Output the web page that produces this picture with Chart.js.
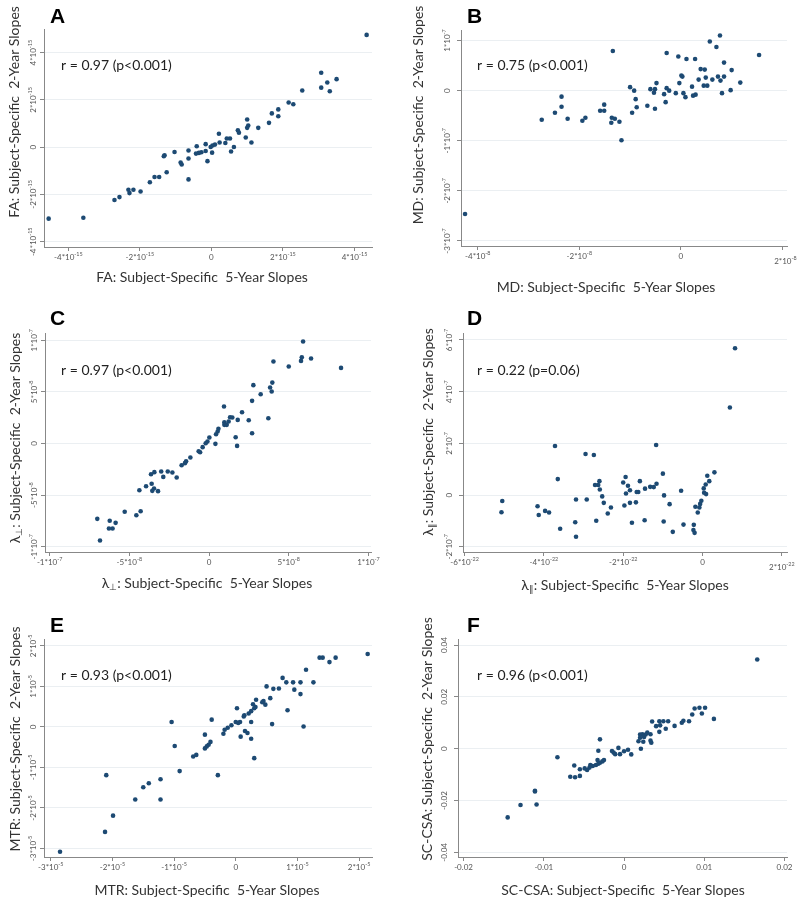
<!DOCTYPE html>
<html>
<head>
<meta charset="utf-8">
<script src="https://cdn.jsdelivr.net/npm/chart.js@4.4.1/dist/chart.umd.min.js"></script>
<style>
  body { margin: 0; background: #fff; width: 800px; height: 901px; position: relative; overflow: hidden; }
  canvas { position: absolute; }
</style>
</head>
<body>
<canvas id="cA" width="400" height="300" style="left:0;top:0"></canvas>
<canvas id="cB" width="400" height="300" style="left:400px;top:0"></canvas>
<canvas id="cC" width="400" height="300" style="left:0;top:300px"></canvas>
<canvas id="cD" width="400" height="300" style="left:400px;top:300px"></canvas>
<canvas id="cE" width="400" height="301" style="left:0;top:600px"></canvas>
<canvas id="cF" width="400" height="301" style="left:400px;top:600px"></canvas>
<script>
// A: FA slopes, units of 1e-15
const aX = [4.34, 3.07, 3.24, 3.50, 3.07, 3.31, 2.54, 2.16, 2.29, 1.87, 1.87, 1.69, 1.61, 1.31, 1.00, 1.03, 1.00, 0.96, 1.12, 0.74,
  0.77, 0.52, 0.43, 0.39, 0.63, 0.55, 0.21, 0.23, 0.10, 0.03, -0.02, 0.02, -0.16, -0.16, -0.11, -0.28, -0.35, -0.43, -0.41, -0.64,
  -0.64, -0.64, -0.86, -0.83, -1.03, -1.31, -1.33, -1.25, -1.46, -1.59, -1.72, -1.98, -2.18, -2.32, -2.29, -2.57, -2.71, -3.58, -4.55];
const aY = [4.75, 3.15, 2.74, 2.88, 2.52, 2.37, 2.40, 1.89, 1.82, 1.60, 1.31, 1.43, 1.03, 0.82, 1.17, 0.92, 0.82, 0.41, 0.20, 0.72,
  0.61, 0.37, 0.37, 0.18, 0.01, -0.18, 0.57, 0.20, 0.11, 0.07, 0.01, -0.23, 0.13, -0.16, -0.59, -0.21, -0.24, -0.27, 0.04, -0.14,
  -0.48, -1.36, -0.65, -0.73, -0.20, -0.34, -0.38, -1.06, -1.26, -1.26, -1.48, -1.87, -1.80, -1.80, -1.94, -2.11, -2.23, -2.98, -3.02];
const aXTicks = [-4, -2, 0, 2, 4];
const aXLabels = ['-4*10^-15', '-2*10^-15', '0', '2*10^-15', '4*10^-15'];
const aYTicks = [-4, -2, 0, 2, 4];
const aYLabels = ['-4*10^-15', '-2*10^-15', '0', '2*10^-15', '4*10^-15'];

// B: MD slopes, x in 1e-8, y in 1e-7
const bX = [-4.25, -2.74, -2.48, -2.35, -2.35, -2.23, -1.94, -1.88, -1.59, -1.51, -1.51, -1.37, -1.36, -1.30, -1.34, -1.21, -1.17, -1.00, -0.92, -0.89,
  -0.96, -0.87, -0.66, -0.60, -0.51, -0.53, -0.48, -0.51, -0.33, -0.30, -0.28, -0.28, -0.23, -0.10, -0.03, -0.05, 0.01, 0.03, 0.05, 0.09,
  0.11, 0.22, 0.24, 0.29, 0.28, 0.35, 0.39, 0.47, 0.45, 0.49, 0.52, 0.57, 0.62, 0.70, 0.77, 0.73, 0.78, 0.81, 0.85, 0.85,
  1.00, 0.98, 1.17, 1.54];
const bY = [-2.46, -0.58, -0.44, -0.12, -0.32, -0.56, -0.60, -0.54, -0.40, -0.40, -0.28, -0.64, -0.54, -0.56, 0.79, -0.62, -0.99, 0.07, 0.00, -0.17,
  -0.44, -0.33, -0.30, 0.03, 0.03, -0.04, 0.15, -0.36, -0.07, -0.23, 0.75, 0.05, 0.00, -0.05, 0.15, 0.68, 0.30, 0.28, -0.05, -0.13,
  0.63, 0.08, -0.10, -0.08, 0.63, 0.22, 0.43, 0.42, 0.10, 0.26, 0.10, 0.98, 0.22, 0.87, 1.10, 0.28, 0.20, -0.05, 0.28, 0.56,
  0.41, 0.01, 0.16, 0.71];
const bXTicks = [-4, -2, 0, 2];
const bXLabels = ['-4*10^-8', '-2*10^-8', '0', '2*10^-8'];
const bYTicks = [-3, -2, -1, 0, 1];
const bYLabels = ['-3*10^-7', '-2*10^-7', '-1*10^-7', '0', '1*10^-7'];

// C: radial diffusivity slopes, units of 1e-8
const cX = [5.90, 5.82, 5.77, 6.40, 8.28, 5.00, 4.04, 3.97, 3.83, 3.93, 3.24, 2.78, 2.70, 3.72, 2.07, 2.49, 2.70, 1.80, 1.67, 1.76,
  1.46, 1.32, 1.23, 0.94, 0.96, 0.96, 1.11, 0.59, 0.54, 0.44, 0.40, 0.02, -0.10, -0.21, -0.40, -0.65, -0.56, -1.17, -1.44, -1.51,
  -1.72, -2.03, -2.30, -2.59, -2.87, -3.00, -3.20, -3.43, -3.64, -3.60, -3.45, -3.56, -3.95, -4.37, -4.29, -4.56, -5.29, -5.86, -6.05, -6.28,
  -6.23, -7.01, -6.84];
const cY = [9.87, 8.35, 8.00, 8.23, 7.32, 7.45, 7.94, 5.90, 5.42, 5.03, 4.77, 5.65, 4.13, 2.45, 3.03, 2.26, 1.00, 2.29, 0.61, -0.23,
  2.52, 2.55, 2.13, 3.58, 2.06, 1.81, 1.81, 1.42, 1.16, 0.90, -0.03, 0.58, 0.19, 0.03, -0.35, -0.74, -0.84, -1.35, -1.71, -1.90,
  -2.10, -3.29, -2.81, -2.71, -3.23, -2.71, -4.61, -2.77, -2.97, -3.90, -4.35, -4.58, -4.13, -4.52, -6.55, -6.94, -6.61, -7.68, -8.23, -8.23,
  -7.48, -7.29, -9.39];
const cXTicks = [-10, -5, 0, 5, 10];
const cXLabels = ['-1*10^-7', '-5*10^-8', '0', '5*10^-8', '1*10^-7'];
const cYTicks = [-10, -5, 0, 5, 10];
const cYLabels = ['-1*10^-7', '-5*10^-8', '0', '5*10^-8', '1*10^-7'];

// D: axial diffusivity slopes, x in 1e-22, y in 1e-7
const dX = [0.82, 0.69, 0.30, 0.17, 0.12, 0.08, 0.03, 0.04, 0.09, -0.03, -0.06, -0.08, -0.18, -0.12, -0.22, -0.23, -0.20, -0.48, -0.54, -0.75,
  -0.83, -0.97, -1.00, -0.98, -1.17, -1.16, -1.23, -1.32, -1.45, -1.46, -1.58, -1.62, -1.66, -1.68, -1.78, -1.83, -1.83, -1.88, -1.94, -1.93,
  -1.97, -2.00, -2.31, -2.39, -2.49, -2.53, -2.59, -2.60, -2.63, -2.71, -2.68, -2.74, -2.95, -2.92, -3.19, -3.21, -3.19, -3.59, -3.65, -3.72,
  -3.87, -3.97, -4.13, -4.16, -5.07, -5.05];
const dY = [5.68, 3.39, 0.88, 0.54, 0.75, 0.41, 0.26, 0.09, 0.04, -0.22, -0.34, -0.48, -0.45, -0.67, -1.15, -1.35, -1.46, -1.14, 0.17, -1.42,
  -0.35, -0.01, 0.83, -1.02, 1.94, 0.44, 0.31, 0.32, 0.25, -0.97, 0.54, 0.12, 0.12, -0.28, -1.07, -0.30, 0.19, 0.36, 0.70, 0.06,
  -0.40, 0.49, -0.48, -0.71, -0.30, -0.05, 0.22, 0.54, 0.39, 0.39, -0.99, 1.55, 1.59, -0.17, -0.17, -1.05, -1.61, -1.30, 0.62, 1.90,
  -0.67, -0.61, -0.77, -0.43, -0.66, -0.23];
const dXTicks = [-6, -4, -2, 0, 2];
const dXLabels = ['-6*10^-22', '-4*10^-22', '-2*10^-22', '0', '2*10^-22'];
const dYTicks = [-2, 0, 2, 4, 6];
const dYLabels = ['-2*10^-7', '0', '2*10^-7', '4*10^-7', '6*10^-7'];

// E: MTR slopes, units of 1e-5
const eX = [2.14, 1.62, 1.52, 1.41, 1.36, 1.14, 1.26, 1.05, 0.93, 0.95, 0.76, 0.82, 0.70, 0.61, 0.50, 1.05, 0.56, 0.48, 0.45, 0.43,
  0.33, 0.32, 0.28, 0.30, 0.25, 0.21, 0.13, 0.14, 0.02, 0.07, 0.00, 0.04, -0.07, -0.13, -0.18, -0.20, 0.08, 0.15, 0.19, 0.25,
  0.25, 0.59, 0.84, 1.10, 0.30, -0.29, -0.39, -0.41, -0.44, -0.47, -0.50, -0.50, -0.64, -0.69, -0.91, -0.99, -1.04, -1.22, -1.22, -1.41,
  -1.50, -1.63, -2.10, -1.99, -2.12, -2.85];
const eY = [1.80, 1.71, 1.60, 1.71, 1.71, 1.41, 1.10, 1.10, 1.10, 0.92, 1.21, 1.10, 0.95, 0.94, 1.00, 0.81, 0.71, 0.55, 0.64, 0.61,
  0.67, 0.49, 0.56, 0.46, 0.39, 0.33, 0.26, 0.29, 0.46, 0.12, 0.12, 0.10, 0.04, -0.02, -0.07, -0.17, -0.24, -0.10, -0.15, 0.12,
  -0.29, 0.07, 0.41, 0.01, -0.77, -1.19, 0.18, -0.37, -0.44, -0.48, -0.53, -0.19, -0.69, -0.73, -1.09, -0.47, 0.12, -1.29, -1.79, -1.39,
  -1.49, -1.79, -1.19, -2.19, -2.59, -3.08];
const eXTicks = [-3, -2, -1, 0, 1, 2];
const eXLabels = ['-3*10^-5', '-2*10^-5', '-1*10^-5', '0', '1*10^-5', '2*10^-5'];
const eYTicks = [-3, -2, -1, 0, 1, 2];
const eYLabels = ['-3*10^-5', '-2*10^-5', '-1*10^-5', '0', '1*10^-5', '2*10^-5'];

// F: SC-CSA slopes
const fX = [0.0166, 0.0112, 0.0101, 0.0094, 0.0097, 0.0088, 0.0085, 0.0081, 0.0074, 0.0072, 0.0063, 0.0055, 0.0052, 0.0049, 0.0044, 0.0045, 0.0040, 0.0044, 0.0035, 0.0033,
  0.0029, 0.0027, 0.0025, 0.0023, 0.0020, 0.0024, 0.0033, 0.0034, 0.0018, 0.0020, 0.0021, 0.0009, 0.0005, 0.0000, -0.0005, -0.0007, -0.0011, -0.0013, -0.0015, -0.0025,
  -0.0027, -0.0030, -0.0032, -0.0030, -0.0032, -0.0033, -0.0035, -0.0039, -0.0042, -0.0043, -0.0046, -0.0049, -0.0055, -0.0055, -0.0062, -0.0061, -0.0067, -0.0083, -0.0111, -0.0111,
  -0.0109, -0.0129, -0.0145];
const fY = [0.0344, 0.0115, 0.0158, 0.0158, 0.0136, 0.0155, 0.0132, 0.0106, 0.0108, 0.0100, 0.0088, 0.0106, 0.0077, 0.0106, 0.0106, 0.0090, 0.0087, 0.0065, 0.0105, 0.0056,
  0.0062, 0.0055, 0.0045, 0.0056, 0.0055, 0.0027, 0.0031, 0.0023, 0.0029, 0.0042, 0.0000, -0.0022, -0.0004, -0.0010, -0.0021, 0.0003, -0.0021, -0.0015, -0.0009, -0.0044,
  -0.0049, -0.0054, -0.0058, 0.0036, -0.0008, -0.0044, -0.0063, -0.0067, -0.0063, -0.0073, -0.0082, -0.0076, -0.0079, -0.0105, -0.0065, -0.0110, -0.0108, -0.0033, -0.0162, -0.0165,
  -0.0215, -0.0217, -0.0265];
const fXTicks = [-0.02, -0.01, 0, 0.01, 0.02];
const fXLabels = ['-0.02', '-0.01', '0', '0.01', '0.02'];
const fYTicks = [-0.04, -0.02, 0, 0.02, 0.04];
const fYLabels = ['-0.04', '-0.02', '0', '0.02', '0.04'];

const FONT = 'Lato, "Open Sans", sans-serif';
const DOT = '#1d4a73';

// segments: '_x_' marks a subscript, '^' starts a superscript
function drawRich(ctx, txt, x, y, size, rotate, color) {
  const segs = [];
  const m = txt.match(/^(.*?)_(.+?)_(.*)$/);
  if (m) {
    segs.push({ t: m[1], s: size, dy: 0 }, { t: m[2], s: size * 0.62, dy: size * 0.3 }, { t: m[3], s: size, dy: 0 });
  } else if (txt.includes('^')) {
    const p = txt.split('^');
    segs.push({ t: p[0], s: size, dy: 0 }, { t: p[1], s: size * 0.68, dy: -size * 0.38 });
  } else {
    segs.push({ t: txt, s: size, dy: 0 });
  }
  ctx.save();
  ctx.translate(x, y);
  if (rotate) ctx.rotate(-Math.PI / 2);
  ctx.fillStyle = color;
  ctx.textBaseline = 'middle';
  ctx.textAlign = 'left';
  let w = 0;
  segs.forEach(s => { ctx.font = s.s + 'px ' + FONT; s.w = ctx.measureText(s.t).width; w += s.w; });
  let cx = -w / 2;
  segs.forEach(s => { ctx.font = s.s + 'px ' + FONT; ctx.fillText(s.t, cx, s.dy); cx += s.w; });
  ctx.restore();
}

const textPlugin = {
  id: 'panelText',
  afterDraw(chart) {
    const p = chart.options.plugins.panelText;
    const ctx = chart.ctx;
    const xs = chart.scales.x, ys = chart.scales.y;
    ctx.save();
    ctx.font = 'bold 21px "Liberation Sans", Arial, sans-serif';
    ctx.fillStyle = '#000';
    ctx.textBaseline = 'alphabetic';
    ctx.fillText(p.letter, p.letterPos[0], p.letterPos[1]);
    ctx.font = '14px ' + FONT;
    ctx.fillStyle = '#222';
    ctx.textBaseline = 'middle';
    ctx.fillText(p.r, p.rPos[0], p.rPos[1]);
    ctx.restore();
    p.xTicks.forEach((v, i) => {
      const last = i === p.xTicks.length - 1;
      drawRich(ctx, p.xLabels[i], xs.getPixelForValue(v) + (last ? p.lastShift[0] : 0),
        xs.top + 10 + (last ? p.lastShift[1] : 0), 8, false, '#555');
    });
    p.yTicks.forEach((v, i) => {
      drawRich(ctx, p.yLabels[i], ys.right - p.yLabelGap, ys.getPixelForValue(v), 8, true, '#555');
    });
    drawRich(ctx, p.xTitle, p.xTitlePos[0], p.xTitlePos[1], 14, false, '#333');
    drawRich(ctx, p.yTitle, p.yTitlePos[0], p.yTitlePos[1], 14, true, '#333');
  }
};

function makePanel(id, xs, ys, cfg) {
  const a = cfg.area;
  const el = document.getElementById(id);
  const H = el.height;
  new Chart(el, {
    type: 'scatter',
    data: {
      datasets: [{
        data: xs.map((v, i) => ({ x: v, y: ys[i] })),
        backgroundColor: DOT,
        borderColor: DOT,
        borderWidth: 0,
        pointRadius: 2.3,
        clip: false
      }]
    },
    options: {
      responsive: false,
      animation: false,
      layout: { padding: { left: a[0], top: a[1], right: 400 - a[2], bottom: H - a[3] } },
      plugins: {
        legend: { display: false },
        tooltip: { enabled: false },
        panelText: cfg
      },
      scales: {
        x: {
          type: 'linear',
          min: cfg.xRange[0], max: cfg.xRange[1],
          afterBuildTicks: s => { s.ticks = cfg.xTicks.map(v => ({ value: v })); },
          afterFit: s => { s.height = 0; },
          ticks: { display: false },
          grid: { drawOnChartArea: false, drawTicks: true, tickLength: 4, tickColor: '#888' },
          border: { color: '#888', width: 1 }
        },
        y: {
          type: 'linear',
          min: cfg.yRange[0], max: cfg.yRange[1],
          afterBuildTicks: s => { s.ticks = cfg.yTicks.map(v => ({ value: v })); },
          afterFit: s => { s.width = 0; },
          ticks: { display: false },
          grid: { color: '#ebeff2', lineWidth: 1, drawTicks: true, tickLength: 4, tickColor: '#888' },
          border: { color: '#888', width: 1 }
        }
      }
    },
    plugins: [textPlugin]
  });
}

makePanel('cA', aX, aY, {
  letter: 'A', letterPos: [50, 23], r: 'r = 0.97 (p<0.001)', rPos: [61, 65],
  area: [44, 29, 372, 247], xRange: [-4.68, 4.49], yRange: [-4.22, 5.0],
  xTicks: aXTicks, xLabels: aXLabels, yTicks: aYTicks, yLabels: aYLabels, lastShift: [0, 0], yLabelGap: 11,
  xTitle: 'FA: Subject-Specific  5-Year Slopes', xTitlePos: [202, 277],
  yTitle: 'FA: Subject-Specific  2-Year Slopes', yTitlePos: [14, 112]
});
makePanel('cB', bX, bY, {
  letter: 'B', letterPos: [67, 23], r: 'r = 0.75 (p<0.001)', rPos: [77, 65],
  area: [61, 30, 387, 246], xRange: [-4.33, 2.09], yRange: [-3.1, 1.21],
  xTicks: bXTicks, xLabels: bXLabels, yTicks: bYTicks, yLabels: bYLabels, lastShift: [3, 5], yLabelGap: 14,
  xTitle: 'MD: Subject-Specific  5-Year Slopes', xTitlePos: [206, 287],
  yTitle: 'MD: Subject-Specific  2-Year Slopes', yTitlePos: [18, 115]
});
makePanel('cC', cX, cY, {
  letter: 'C', letterPos: [50, 25], r: 'r = 0.97 (p<0.001)', rPos: [61, 70],
  area: [45, 33, 371, 252], xRange: [-10.29, 10.16], yRange: [-10.5, 10.7],
  xTicks: cXTicks, xLabels: cXLabels, yTicks: cYTicks, yLabels: cYLabels, lastShift: [0, 0], yLabelGap: 11,
  xTitle: 'λ_⊥_: Subject-Specific  5-Year Slopes', xTitlePos: [207, 283],
  yTitle: 'λ_⊥_: Subject-Specific  2-Year Slopes', yTitlePos: [15, 138]
});
makePanel('cD', dX, dY, {
  letter: 'D', letterPos: [67, 25], r: 'r = 0.22 (p=0.06)', rPos: [77, 70],
  area: [63, 33, 387, 252], xRange: [-6.04, 2.13], yRange: [-2.2, 6.27],
  xTicks: dXTicks, xLabels: dXLabels, yTicks: dYTicks, yLabels: dYLabels, lastShift: [0, 5], yLabelGap: 14,
  xTitle: 'λ_∥_: Subject-Specific  5-Year Slopes', xTitlePos: [225, 285],
  yTitle: 'λ_∥_: Subject-Specific  2-Year Slopes', yTitlePos: [28, 132]
});
makePanel('cE', eX, eY, {
  letter: 'E', letterPos: [50, 32], r: 'r = 0.93 (p<0.001)', rPos: [61, 75],
  area: [44, 39, 372, 257], xRange: [-3.11, 2.21], yRange: [-3.21, 2.17],
  xTicks: eXTicks, xLabels: eXLabels, yTicks: eYTicks, yLabels: eYLabels, lastShift: [0, 0], yLabelGap: 11,
  xTitle: 'MTR: Subject-Specific  5-Year Slopes', xTitlePos: [207, 290],
  yTitle: 'MTR: Subject-Specific  2-Year Slopes', yTitlePos: [15, 139]
});
makePanel('cF', fX, fY, {
  letter: 'F', letterPos: [67, 32], r: 'r = 0.96 (p<0.001)', rPos: [77, 75],
  area: [58, 39, 387, 257], xRange: [-0.02069, 0.02031], yRange: [-0.04178, 0.04232],
  xTicks: fXTicks, xLabels: fXLabels, yTicks: fYTicks, yLabels: fYLabels, lastShift: [0, 0], yLabelGap: 14,
  xTitle: 'SC-CSA: Subject-Specific  5-Year Slopes', xTitlePos: [223, 290],
  yTitle: 'SC-CSA: Subject-Specific  2-Year Slopes', yTitlePos: [27, 139]
});
</script>
</body>
</html>
